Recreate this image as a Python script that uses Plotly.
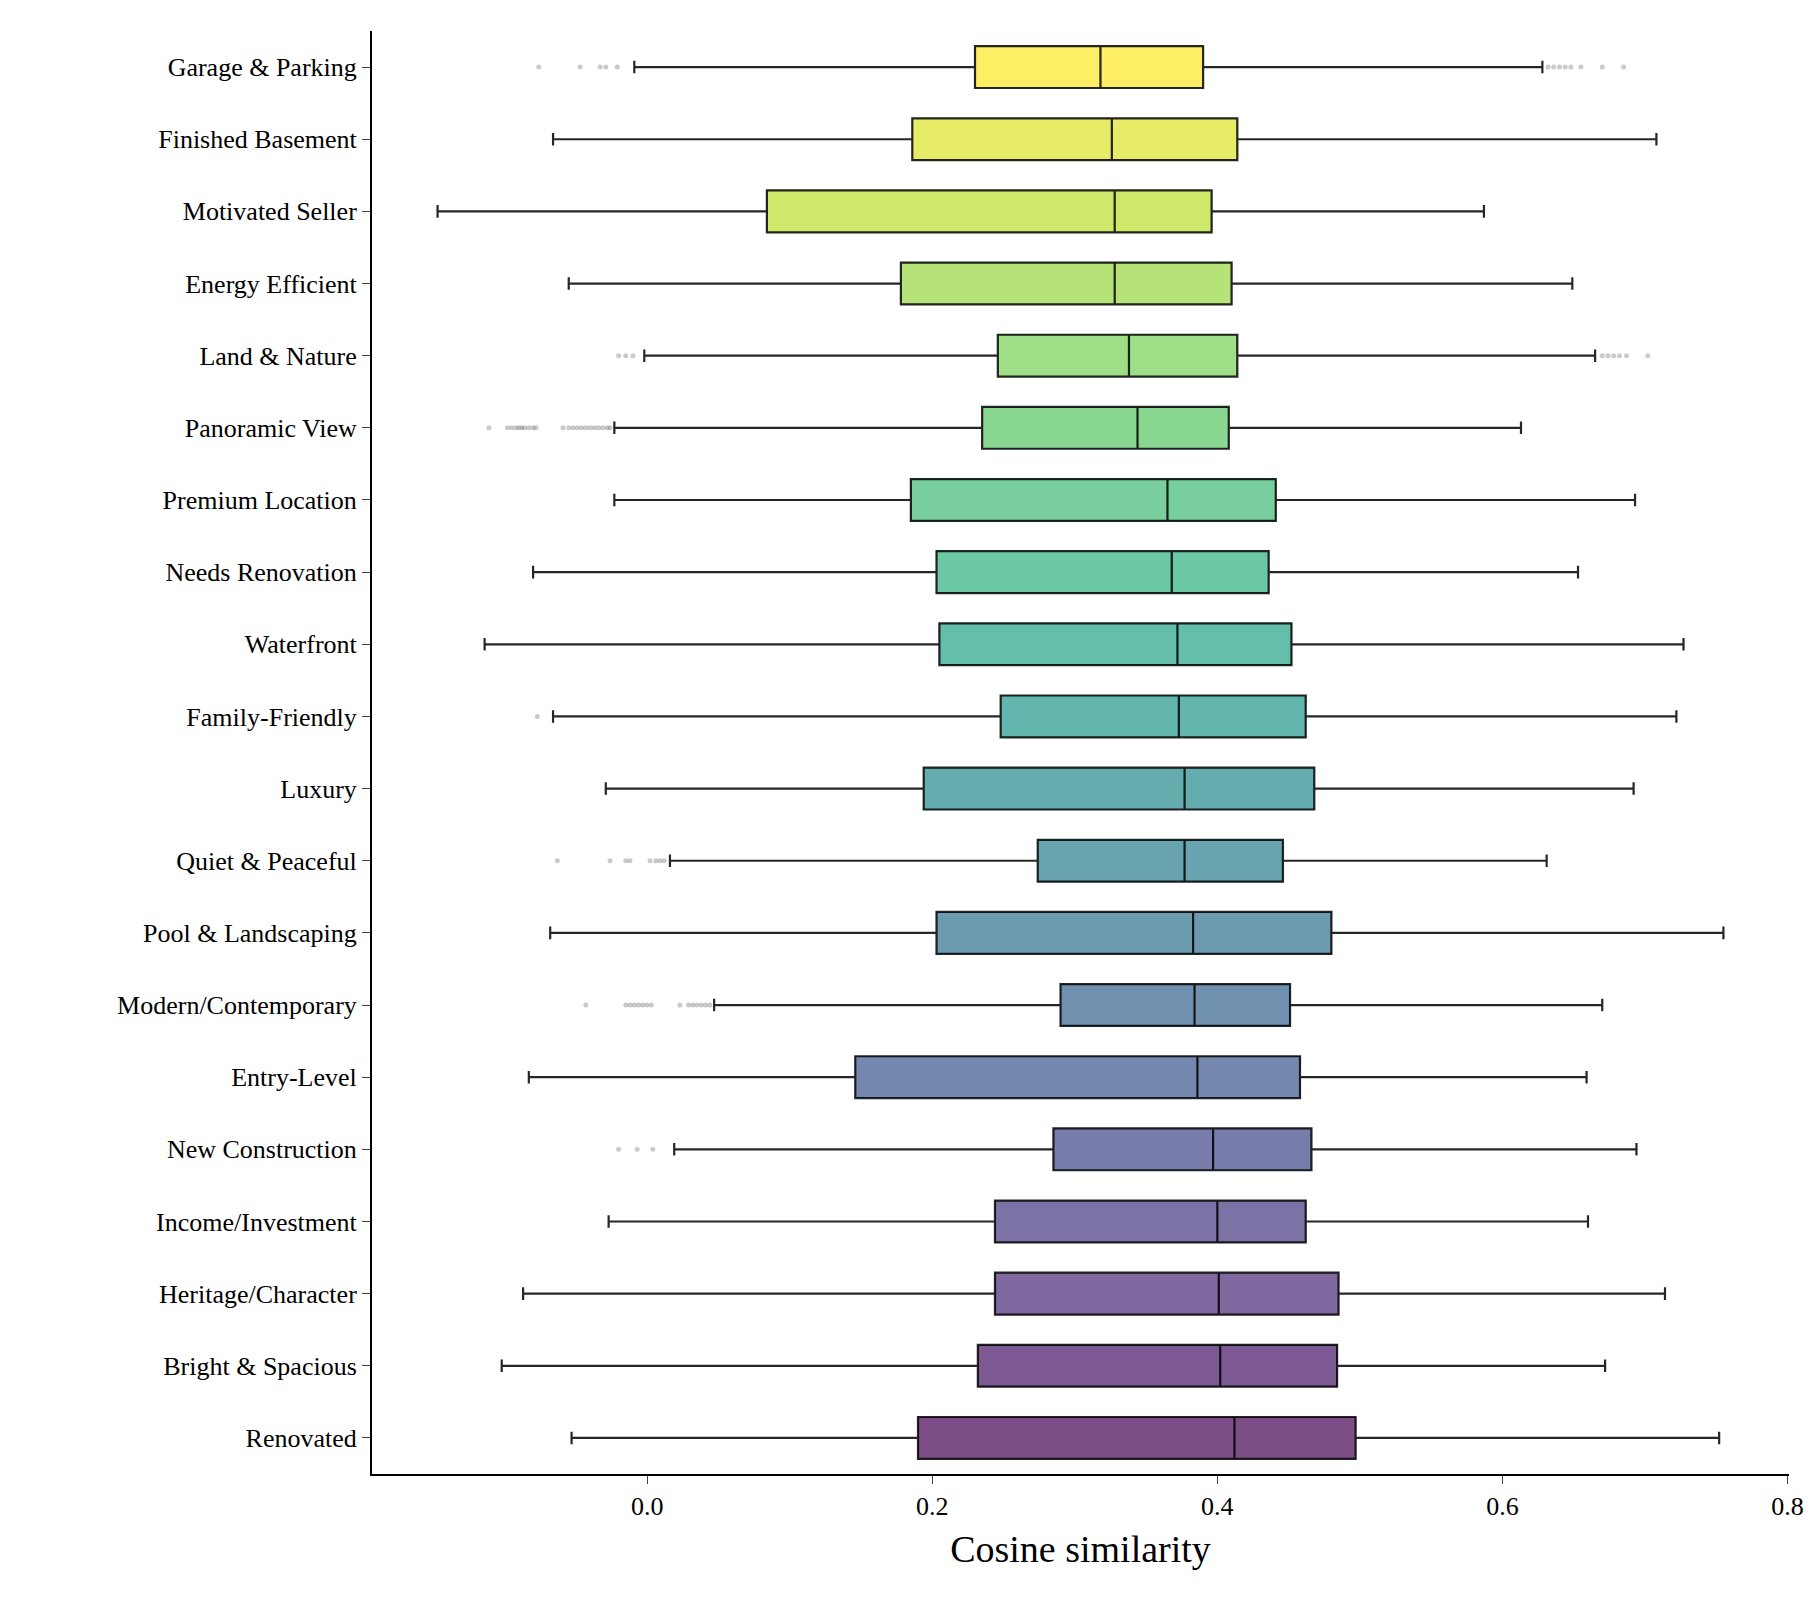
import plotly.graph_objects as go
from plotly.colors import sample_colorscale

categories = ["Garage & Parking","Finished Basement","Motivated Seller","Energy Efficient","Land & Nature",
 "Panoramic View","Premium Location","Needs Renovation","Waterfront","Family-Friendly","Luxury",
 "Quiet & Peaceful","Pool & Landscaping","Modern/Contemporary","Entry-Level","New Construction",
 "Income/Investment","Heritage/Character","Bright & Spacious","Renovated"]
lower = [-0.009,-0.066,-0.147,-0.055,-0.002,-0.023,-0.023,-0.080,-0.114,-0.066,-0.029,0.016,-0.068,0.047,-0.083,0.019,-0.027,-0.087,-0.102,-0.053]
q1 =    [0.230,0.186,0.084,0.178,0.246,0.235,0.185,0.203,0.205,0.248,0.194,0.274,0.203,0.290,0.146,0.285,0.244,0.244,0.232,0.190]
median= [0.318,0.326,0.328,0.328,0.338,0.344,0.365,0.368,0.372,0.373,0.377,0.377,0.383,0.384,0.386,0.397,0.400,0.401,0.402,0.412]
q3 =    [0.390,0.414,0.396,0.410,0.414,0.408,0.441,0.436,0.452,0.462,0.468,0.446,0.480,0.451,0.458,0.466,0.462,0.485,0.484,0.497]
upper = [0.628,0.708,0.587,0.649,0.665,0.613,0.693,0.653,0.727,0.722,0.692,0.631,0.755,0.670,0.659,0.694,0.660,0.714,0.672,0.752]
outliers = {
 "Garage & Parking": [-0.076,-0.047,-0.033,-0.029,-0.021,0.632,0.636,0.640,0.644,0.648,0.655,0.670,0.685],
 "Land & Nature": [-0.020,-0.015,-0.010,0.670,0.674,0.678,0.682,0.687,0.702],
 "Panoramic View": [-0.111,-0.098,-0.095,-0.092,-0.090,-0.088,-0.086,-0.083,-0.080,-0.078,-0.059,-0.055,-0.052,-0.049,-0.046,-0.043,-0.040,-0.037,-0.034,-0.031,-0.028,-0.026],
 "Family-Friendly": [-0.077],
 "Quiet & Peaceful": [-0.063,-0.026,-0.015,-0.012,0.002,0.006,0.009,0.012],
 "Modern/Contemporary": [-0.043,-0.015,-0.012,-0.009,-0.006,-0.003,0.000,0.003,0.023,0.029,0.032,0.035,0.038,0.041,0.044],
 "New Construction": [-0.020,-0.007,0.004],
}

n = len(categories)
colors = sample_colorscale("Viridis", [1 - i/(n-1) for i in range(n)])

def rgba(c, a):
    c = c.replace("rgb(", "").replace(")", "")
    return f"rgba({c},{a})"

fig = go.Figure()
for i, cat in enumerate(categories):
    fig.add_trace(go.Box(
        y=[cat], q1=[q1[i]], median=[median[i]], q3=[q3[i]],
        lowerfence=[lower[i]], upperfence=[upper[i]], orientation="h",
        fillcolor=rgba(colors[i], 0.7), line=dict(color="rgba(0,0,0,0.85)", width=2.2),
        boxpoints=False, whiskerwidth=0.3, width=0.58, showlegend=False))
    if cat in outliers:
        xs = outliers[cat]
        fig.add_trace(go.Scatter(x=xs, y=[cat]*len(xs), mode="markers",
            marker=dict(color="rgba(80,80,80,0.3)", size=5), showlegend=False))

fig.update_layout(
    width=1818, height=1608, plot_bgcolor="white", paper_bgcolor="white",
    margin=dict(l=364, r=37, t=23, b=142),
    font=dict(family="Liberation Serif", size=26, color="black"),
)
fig.update_xaxes(range=[-0.193, 0.801], tickvals=[0, 0.2, 0.4, 0.6, 0.8],
    ticktext=["0.0", "0.2", "0.4", "0.6", "0.8"], showline=True, linecolor="black",
    linewidth=2, ticks="outside", ticklen=8, showgrid=False, zeroline=False,
    title=dict(text="Cosine similarity", font=dict(size=38)))
fig.update_yaxes(categoryorder="array", categoryarray=categories[::-1],
    range=[-0.5, n - 0.5], showline=True, linecolor="black", linewidth=2,
    ticks="outside", ticklen=8, showgrid=False)
fig.write_html("out.html")
